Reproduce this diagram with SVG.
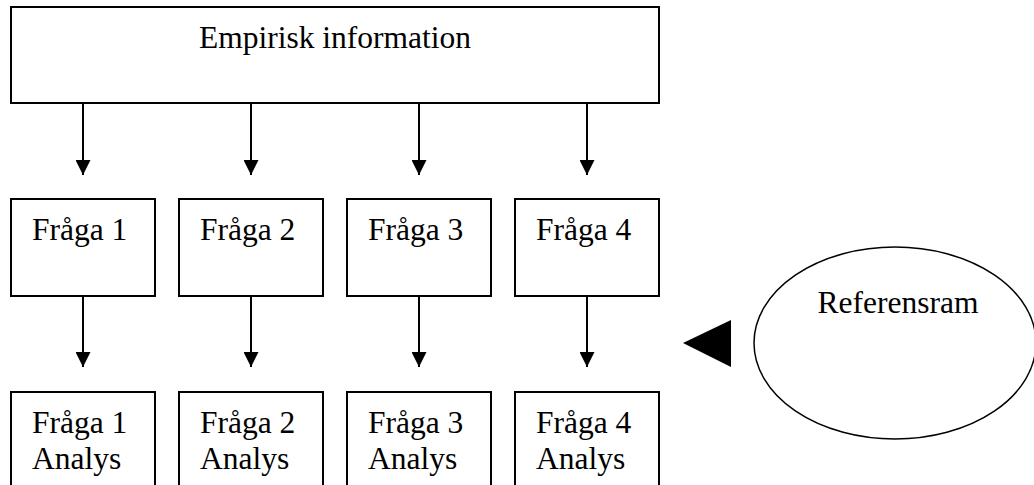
<svg xmlns="http://www.w3.org/2000/svg" width="1034" height="485" viewBox="0 0 1034 485">
<style>
.box{fill:#fff;stroke:#000;stroke-width:2}
.t{font-family:"Liberation Serif","Times New Roman",serif;font-size:31.5px;fill:#000}
.ln{stroke:#000;stroke-width:2;fill:none}
</style>
<defs>
<marker id="ah" markerWidth="15" markerHeight="15" refX="15" refY="7.5" orient="auto" markerUnits="userSpaceOnUse">
<path d="M0,0 L15,7.5 L0,15 Z" fill="#000"/>
</marker>
</defs>
<rect width="1034" height="485" fill="#fff"/>
<g id="empirisk">
<rect class="box" x="11" y="7" width="648" height="96"/>
<text class="t" x="335" y="48" text-anchor="middle">Empirisk information</text>
</g>
<g id="fraga1"><rect class="box" x="11" y="199" width="144" height="97"/><text class="t" x="32" y="240">Fråga 1</text></g>
<g id="fraga2"><rect class="box" x="179" y="199" width="144" height="97"/><text class="t" x="200" y="240">Fråga 2</text></g>
<g id="fraga3"><rect class="box" x="347" y="199" width="144" height="97"/><text class="t" x="368" y="240">Fråga 3</text></g>
<g id="fraga4"><rect class="box" x="515" y="199" width="144" height="97"/><text class="t" x="536" y="240">Fråga 4</text></g>
<g id="analys1"><rect class="box" x="11" y="392" width="144" height="110"/><text class="t" x="32" y="433">Fråga 1</text><text class="t" x="32" y="469">Analys</text></g>
<g id="analys2"><rect class="box" x="179" y="392" width="144" height="110"/><text class="t" x="200" y="433">Fråga 2</text><text class="t" x="200" y="469">Analys</text></g>
<g id="analys3"><rect class="box" x="347" y="392" width="144" height="110"/><text class="t" x="368" y="433">Fråga 3</text><text class="t" x="368" y="469">Analys</text></g>
<g id="analys4"><rect class="box" x="515" y="392" width="144" height="110"/><text class="t" x="536" y="433">Fråga 4</text><text class="t" x="536" y="469">Analys</text></g>
<g id="referensram">
<ellipse cx="895" cy="343" rx="141" ry="96" fill="#fff" stroke="#000" stroke-width="1.5"/>
<text class="t" x="898" y="313" text-anchor="middle">Referensram</text>
</g>
<g id="connectors">
<line class="ln" x1="83" y1="103" x2="83" y2="175" marker-end="url(#ah)"/>
<line class="ln" x1="251" y1="103" x2="251" y2="175" marker-end="url(#ah)"/>
<line class="ln" x1="419" y1="103" x2="419" y2="175" marker-end="url(#ah)"/>
<line class="ln" x1="587" y1="103" x2="587" y2="175" marker-end="url(#ah)"/>
<line class="ln" x1="83" y1="296" x2="83" y2="367" marker-end="url(#ah)"/>
<line class="ln" x1="251" y1="296" x2="251" y2="367" marker-end="url(#ah)"/>
<line class="ln" x1="419" y1="296" x2="419" y2="367" marker-end="url(#ah)"/>
<line class="ln" x1="587" y1="296" x2="587" y2="367" marker-end="url(#ah)"/>
<polygon points="683,343 731,320 731,367" fill="#000"/>
</g>
</svg>
